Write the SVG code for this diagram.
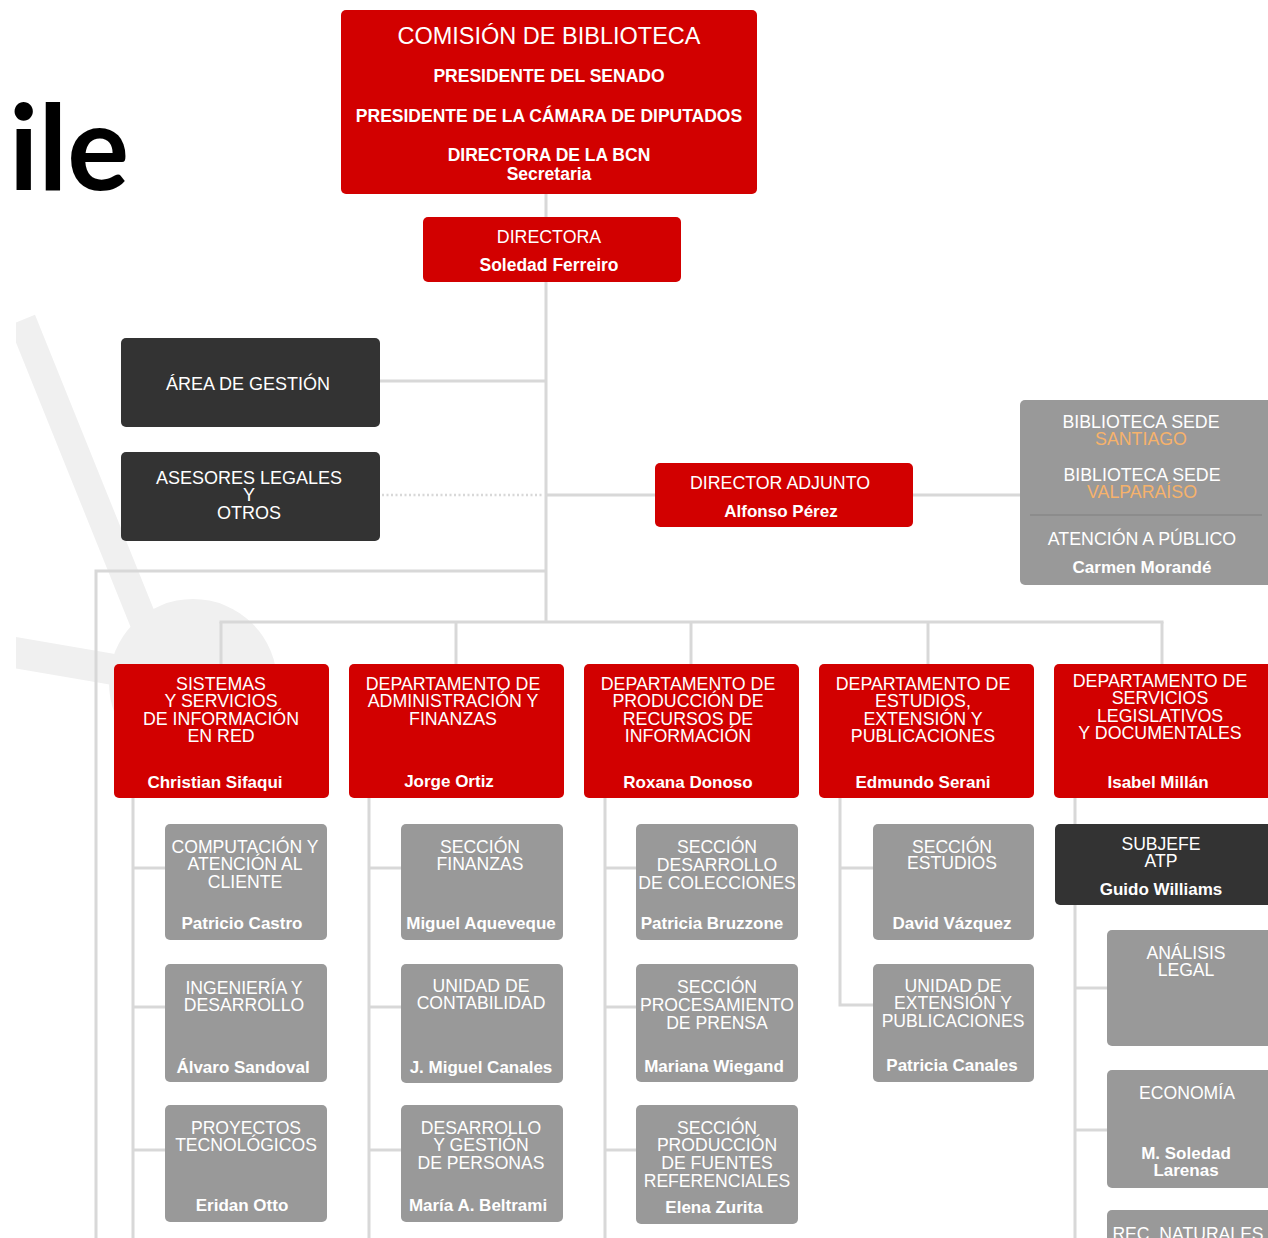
<svg xmlns="http://www.w3.org/2000/svg" width="1268" height="1238" viewBox="0 0 1268 1238">
<style>
text{font-family:"Liberation Sans",Arial,sans-serif;fill:#fff;text-anchor:middle}
.red{fill:#d20000}
.dark{fill:#333333}
.gray{fill:#999999}
.t{font-size:17.8px}
.n{font-size:17px;font-weight:bold}
.s{font-size:17.6px}
.sn{font-size:17px;font-weight:bold}
.b{font-size:17.5px;font-weight:bold}
.or{fill:#f6b26b}
.conn line,.conn polyline{stroke:#d8d8d8;stroke-width:3;fill:none}
</style>
<defs>
<clipPath id="wm"><rect x="16" y="300" width="400" height="500"/></clipPath>
</defs>
<rect width="1268" height="1238" fill="#fff"/>
<g id="watermark" clip-path="url(#wm)" fill="#f0f0f0" stroke="#f0f0f0">
<line x1="22" y1="320" x2="155" y2="650" stroke-width="28"/>
<line x1="0" y1="650" x2="140" y2="674" stroke-width="31"/>
<circle cx="193" cy="683" r="84" stroke="none"/>
</g>
<text x="69" y="190" style="font-family:Lato,'Open Sans',sans-serif;font-weight:bold;font-size:118px;fill:#000" textLength="120" lengthAdjust="spacingAndGlyphs">ile</text>

<g class="conn" id="connectors">
<line x1="546" y1="194" x2="546" y2="622"/>
<line x1="380" y1="381" x2="546" y2="381"/>
<line x1="382" y1="495" x2="542" y2="495" style="stroke-dasharray:2 2.5;stroke-width:2.5"/>
<line x1="546" y1="495" x2="655" y2="495"/>
<line x1="913" y1="495" x2="1020" y2="495"/>
<polyline points="546,571 96,571 96,1238"/>
<line x1="219.5" y1="622" x2="1163.5" y2="622"/>
<line x1="221" y1="622" x2="221" y2="664"/>
<line x1="456" y1="622" x2="456" y2="664"/>
<line x1="691" y1="622" x2="691" y2="664"/>
<line x1="928" y1="622" x2="928" y2="664"/>
<line x1="1162" y1="622" x2="1162" y2="664"/>
<line x1="133" y1="798" x2="133" y2="1238"/>
<line x1="133" y1="868" x2="165" y2="868"/>
<line x1="133" y1="1007" x2="165" y2="1007"/>
<line x1="133" y1="1150" x2="165" y2="1150"/>
<line x1="369" y1="798" x2="369" y2="1238"/>
<line x1="369" y1="868" x2="401" y2="868"/>
<line x1="369" y1="1007" x2="401" y2="1007"/>
<line x1="369" y1="1150" x2="401" y2="1150"/>
<line x1="605" y1="798" x2="605" y2="1238"/>
<line x1="605" y1="868" x2="636" y2="868"/>
<line x1="605" y1="1007" x2="636" y2="1007"/>
<line x1="605" y1="1150" x2="636" y2="1150"/>
<polyline points="840,798 840,1005 873,1005"/>
<line x1="840" y1="868" x2="873" y2="868"/>
<line x1="1075" y1="798" x2="1075" y2="1238"/>
<line x1="1075" y1="988" x2="1107" y2="988"/>
<line x1="1075" y1="1130" x2="1107" y2="1130"/>
</g>

<g id="comision">
<rect class="red" x="341" y="10" width="416" height="184" rx="5"/>
<text x="549" y="44" style="font-size:23.5px">COMISIÓN DE BIBLIOTECA</text>
<text class="b" x="549" y="82">PRESIDENTE DEL SENADO</text>
<text class="b" x="549" y="122">PRESIDENTE DE LA CÁMARA DE DIPUTADOS</text>
<text class="b" x="549" y="161">DIRECTORA DE LA BCN</text>
<text class="b" x="549" y="180">Secretaria</text>
</g>
<g id="directora">
<rect class="red" x="423" y="217" width="258" height="65" rx="5"/>
<text class="t" x="549" y="243">DIRECTORA</text>
<text class="b" x="549" y="271">Soledad Ferreiro</text>
</g>
<g id="area-gestion">
<rect class="dark" x="121" y="338" width="259" height="89" rx="5"/>
<text x="248" y="390" style="font-size:18px">ÁREA DE GESTIÓN</text>
</g>
<g id="asesores">
<rect class="dark" x="121" y="452" width="259" height="89" rx="5"/>
<text x="249" y="484" style="font-size:18px">ASESORES LEGALES</text>
<text x="249" y="501" style="font-size:18px">Y</text>
<text x="249" y="519" style="font-size:18px">OTROS</text>
</g>
<g id="director-adjunto">
<rect class="red" x="655" y="463" width="258" height="64" rx="5"/>
<text class="t" x="780" y="489">DIRECTOR ADJUNTO</text>
<text class="n" x="781" y="517">Alfonso Pérez</text>
</g>
<g id="bibliotecas">
<rect class="gray" x="1020" y="400" width="256" height="185" rx="5"/>
<text class="t" x="1141" y="428">BIBLIOTECA SEDE</text>
<text class="t or" x="1141" y="445">SANTIAGO</text>
<text class="t" x="1142" y="481">BIBLIOTECA SEDE</text>
<text class="t or" x="1142" y="498">VALPARAÍSO</text>
<line x1="1030" y1="515" x2="1262" y2="515" stroke="#888" stroke-width="1.5"/>
<text class="t" x="1142" y="545">ATENCIÓN A PÚBLICO</text>
<text class="n" x="1142" y="573">Carmen Morandé</text>
</g>

<g id="dept-sistemas">
<rect class="red" x="114" y="664" width="215" height="134" rx="5"/>
<text class="t" x="221" y="690">SISTEMAS</text>
<text class="t" x="221" y="707">Y SERVICIOS</text>
<text class="t" x="221" y="725">DE INFORMACIÓN</text>
<text class="t" x="221" y="742">EN RED</text>
<text class="n" x="215" y="788">Christian Sifaqui</text>
</g>
<g id="dept-administracion">
<rect class="red" x="349" y="664" width="215" height="134" rx="5"/>
<text class="t" x="453" y="690">DEPARTAMENTO DE</text>
<text class="t" x="453" y="707">ADMINISTRACIÓN Y</text>
<text class="t" x="453" y="725">FINANZAS</text>
<text class="n" x="449" y="787">Jorge Ortiz</text>
</g>
<g id="dept-produccion">
<rect class="red" x="584" y="664" width="215" height="134" rx="5"/>
<text class="t" x="688" y="690">DEPARTAMENTO DE</text>
<text class="t" x="688" y="707">PRODUCCIÓN DE</text>
<text class="t" x="688" y="725">RECURSOS DE</text>
<text class="t" x="688" y="742">INFORMACIÓN</text>
<text class="n" x="688" y="788">Roxana Donoso</text>
</g>
<g id="dept-estudios">
<rect class="red" x="819" y="664" width="215" height="134" rx="5"/>
<text class="t" x="923" y="690">DEPARTAMENTO DE</text>
<text class="t" x="923" y="707">ESTUDIOS,</text>
<text class="t" x="923" y="725">EXTENSIÓN Y</text>
<text class="t" x="923" y="742">PUBLICACIONES</text>
<text class="n" x="923" y="788">Edmundo Serani</text>
</g>
<g id="dept-servicios">
<rect class="red" x="1054" y="664" width="222" height="134" rx="5"/>
<text class="t" x="1160" y="687">DEPARTAMENTO DE</text>
<text class="t" x="1160" y="704">SERVICIOS</text>
<text class="t" x="1160" y="722">LEGISLATIVOS</text>
<text class="t" x="1160" y="739">Y DOCUMENTALES</text>
<text class="n" x="1158" y="788">Isabel Millán</text>
</g>

<g id="computacion">
<rect class="gray" x="165" y="824" width="162" height="116" rx="5"/>
<text class="s" x="245" y="853">COMPUTACIÓN Y</text>
<text class="s" x="245" y="870">ATENCIÓN AL</text>
<text class="s" x="245" y="888">CLIENTE</text>
<text class="sn" x="242" y="929">Patricio Castro</text>
</g>
<g id="ingenieria">
<rect class="gray" x="165" y="964" width="162" height="118" rx="5"/>
<text class="s" x="244" y="994">INGENIERÍA Y</text>
<text class="s" x="244" y="1011">DESARROLLO</text>
<text class="sn" x="243" y="1073">Álvaro Sandoval</text>
</g>
<g id="proyectos">
<rect class="gray" x="165" y="1105" width="162" height="117" rx="5"/>
<text class="s" x="246" y="1134">PROYECTOS</text>
<text class="s" x="246" y="1151">TECNOLÓGICOS</text>
<text class="sn" x="242" y="1211">Eridan Otto</text>
</g>

<g id="seccion-finanzas">
<rect class="gray" x="401" y="824" width="162" height="116" rx="5"/>
<text class="s" x="480" y="853">SECCIÓN</text>
<text class="s" x="480" y="870">FINANZAS</text>
<text class="sn" x="481" y="929">Miguel Aqueveque</text>
</g>
<g id="contabilidad">
<rect class="gray" x="401" y="964" width="162" height="119" rx="5"/>
<text class="s" x="481" y="992">UNIDAD DE</text>
<text class="s" x="481" y="1009">CONTABILIDAD</text>
<text class="sn" x="481" y="1073">J. Miguel Canales</text>
</g>
<g id="personas">
<rect class="gray" x="401" y="1105" width="162" height="117" rx="5"/>
<text class="s" x="481" y="1134">DESARROLLO</text>
<text class="s" x="481" y="1151">Y GESTIÓN</text>
<text class="s" x="481" y="1169">DE PERSONAS</text>
<text class="sn" x="478" y="1211">María A. Beltrami</text>
</g>

<g id="colecciones">
<rect class="gray" x="636" y="824" width="162" height="116" rx="5"/>
<text class="s" x="717" y="853">SECCIÓN</text>
<text class="s" x="717" y="871">DESARROLLO</text>
<text class="s" x="717" y="889">DE COLECCIONES</text>
<text class="sn" x="712" y="929">Patricia Bruzzone</text>
</g>
<g id="prensa">
<rect class="gray" x="636" y="964" width="162" height="118" rx="5"/>
<text class="s" x="717" y="993">SECCIÓN</text>
<text class="s" x="717" y="1011">PROCESAMIENTO</text>
<text class="s" x="717" y="1029">DE PRENSA</text>
<text class="sn" x="714" y="1072">Mariana Wiegand</text>
</g>
<g id="fuentes">
<rect class="gray" x="636" y="1105" width="162" height="119" rx="5"/>
<text class="s" x="717" y="1134">SECCIÓN</text>
<text class="s" x="717" y="1151">PRODUCCIÓN</text>
<text class="s" x="717" y="1169">DE FUENTES</text>
<text class="s" x="717" y="1187">REFERENCIALES</text>
<text class="sn" x="714" y="1213">Elena Zurita</text>
</g>

<g id="seccion-estudios">
<rect class="gray" x="873" y="824" width="161" height="116" rx="5"/>
<text class="s" x="952" y="853">SECCIÓN</text>
<text class="s" x="952" y="869">ESTUDIOS</text>
<text class="sn" x="952" y="929">David Vázquez</text>
</g>
<g id="extension">
<rect class="gray" x="873" y="964" width="161" height="118" rx="5"/>
<text class="s" x="953" y="992">UNIDAD DE</text>
<text class="s" x="953" y="1009">EXTENSIÓN Y</text>
<text class="s" x="953" y="1027">PUBLICACIONES</text>
<text class="sn" x="952" y="1071">Patricia Canales</text>
</g>

<g id="subjefe">
<rect class="dark" x="1055" y="824" width="221" height="81" rx="5"/>
<text class="s" x="1161" y="850">SUBJEFE</text>
<text class="s" x="1161" y="867">ATP</text>
<text class="sn" x="1161" y="895">Guido Williams</text>
</g>
<g id="analisis-legal">
<rect class="gray" x="1107" y="930" width="169" height="116" rx="5"/>
<text class="s" x="1186" y="959">ANÁLISIS</text>
<text class="s" x="1186" y="976">LEGAL</text>
</g>
<g id="economia">
<rect class="gray" x="1107" y="1070" width="169" height="118" rx="5"/>
<text class="s" x="1187" y="1099">ECONOMÍA</text>
<text class="sn" x="1186" y="1159">M. Soledad</text>
<text class="sn" x="1186" y="1176">Larenas</text>
</g>
<g id="rec-naturales">
<rect class="gray" x="1107" y="1210" width="169" height="60" rx="5"/>
<text class="s" x="1188" y="1240">REC. NATURALES</text>
</g>
</svg>
